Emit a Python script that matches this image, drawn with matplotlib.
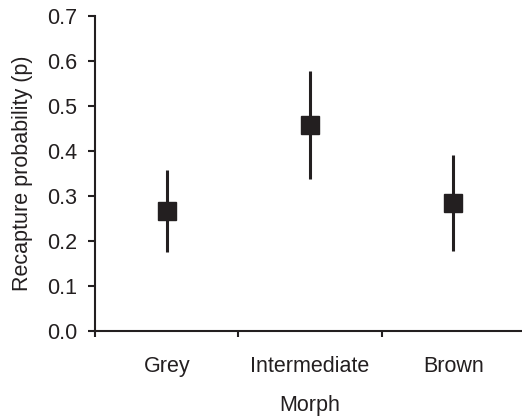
import matplotlib.pyplot as plt

morphs = ["Grey", "Intermediate", "Brown"]
p_est = [0.267, 0.458, 0.285]
ci_low = [0.175, 0.338, 0.178]
ci_high = [0.358, 0.578, 0.391]

plt.rcParams['font.family'] = ['Liberation Sans', 'DejaVu Sans']
ink = '#231f20'
fs = 15.5

fig = plt.figure(figsize=(5.22, 4.17), dpi=100)
ax = fig.add_axes([0.182, 0.206, 0.824, 0.756])

x = list(range(1, len(morphs) + 1))
err = [[p - lo for p, lo in zip(p_est, ci_low)],
       [hi - p for p, hi in zip(p_est, ci_high)]]
ax.errorbar(x, p_est, yerr=err, fmt='s', color=ink, ecolor=ink,
            elinewidth=2.2, capsize=0, markersize=13, zorder=3)

ax.set_xlim(0.5, 3.5)
ax.set_ylim(0, 0.7)
ax.set_yticks([i / 10 for i in range(8)])
ax.set_yticklabels([f"{i / 10:.1f}" for i in range(8)])
ax.set_xticks(x)
ax.set_xticklabels(morphs)
ax.set_xticks([0.5, 1.5, 2.5], minor=True)

ax.tick_params(axis='y', length=5, width=1.5, color=ink, labelsize=fs,
               pad=8, labelcolor=ink)
ax.tick_params(axis='x', which='major', length=0, labelsize=fs, pad=18,
               labelcolor=ink)
ax.tick_params(axis='x', which='minor', length=4.5, width=1.5, color=ink)

for side in ['top', 'right']:
    ax.spines[side].set_visible(False)
for side in ['left', 'bottom']:
    ax.spines[side].set_linewidth(1.5)
    ax.spines[side].set_color(ink)

ax.set_xlabel("Morph", fontsize=fs, color=ink, labelpad=13)
ax.set_ylabel("Recapture probability (p)", fontsize=fs, color=ink, labelpad=10)

fig.savefig("out.png", dpi=100)
